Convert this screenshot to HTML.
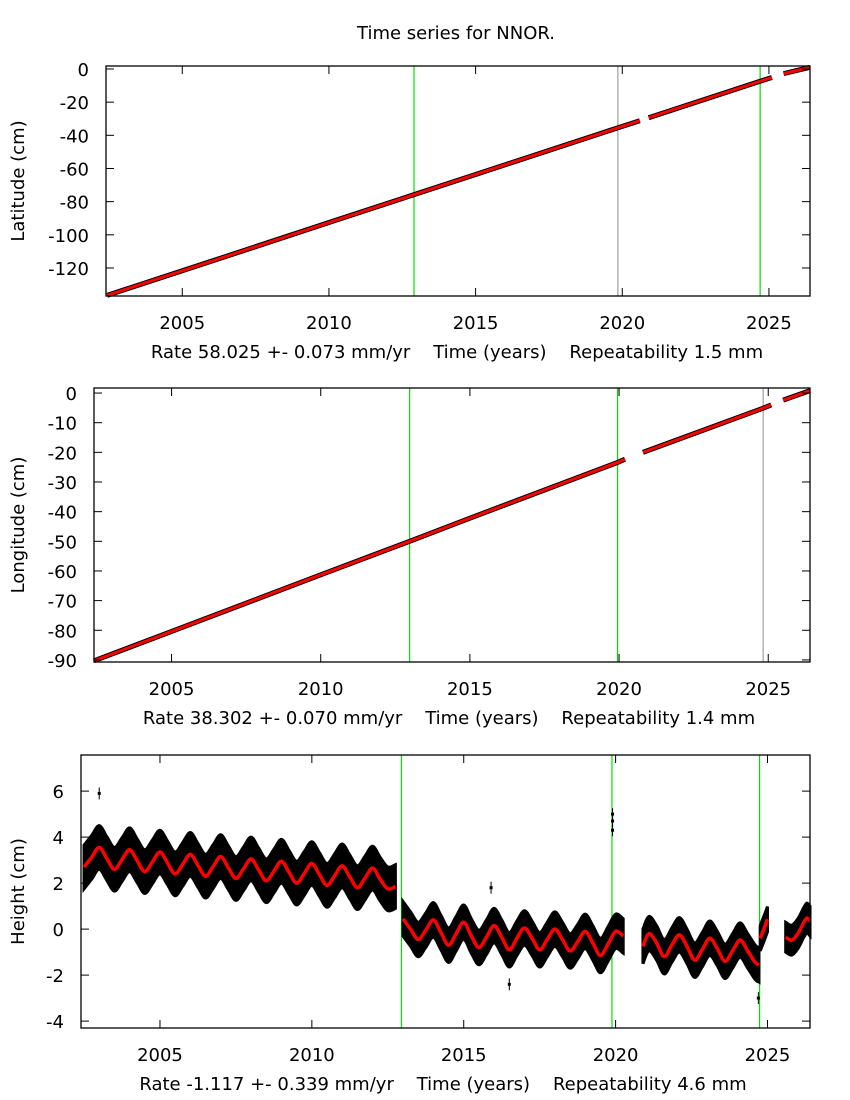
<!DOCTYPE html>
<html><head><meta charset="utf-8"><style>
html,body{margin:0;padding:0;background:#fff;}
svg{display:block;font-family:"DejaVu Sans","Liberation Sans",sans-serif;}
</style></head><body>
<svg id="chart" width="850" height="1100">
<text x="456" y="39" font-size="18" text-anchor="middle">Time series for NNOR.</text>
</svg>
<script>
// ---- Latitude data (cm) ----
const latT = [2002.44, 2005, 2010, 2012.9, 2015, 2019.4, 2019.5, 2020, 2020.6, null, 2020.9, 2024.7, 2025.1, null, 2025.5, 2026.4];
const latV = [-136.5, -121.7, -92.6, -75.8, -63.6, -38.1, -37.5, -34.6, -31.2, null, -29.4, -7.4, -5.1, null, -2.8, 1.0];
// ---- Longitude data (cm) ----
const lonT = [2002.4, 2005, 2010, 2012.98, 2015, 2019.95, 2020.2, null, 2020.8, 2024.83, 2025.1, null, 2025.5, 2026.4];
const lonV = [-90.3, -80.4, -61.3, -50.0, -42.2, -23.4, -22.3, null, -20.0, -5.1, -4.0, null, -2.4, 0.8];
// ---- Height model (cm), segments separated by null ----
const hgtT = [2002.5,2002.75,2003,2003.25,2003.5,2003.75,2004,2004.25,2004.5,2004.75,2005,2005.25,2005.5,2005.75,2006,2006.25,2006.5,2006.75,2007,2007.25,2007.5,2007.75,2008,2008.25,2008.5,2008.75,2009,2009.25,2009.5,2009.75,2010,2010.25,2010.5,2010.75,2011,2011.25,2011.5,2011.75,2012,2012.25,2012.5,2012.75,null,
2013,2013.25,2013.5,2013.75,2014,2014.25,2014.5,2014.75,2015,2015.25,2015.5,2015.75,2016,2016.25,2016.5,2016.75,2017,2017.25,2017.5,2017.75,2018,2018.25,2018.5,2018.75,2019,2019.25,2019.5,2019.75,2020,2020.25,null,
2020.9,2021.1,2021.35,2021.6,2021.85,2022.1,2022.35,2022.6,2022.85,2023.1,2023.35,2023.6,2023.85,2024.1,2024.35,2024.6,2024.72,null,
2024.76,2024.88,2025.0,null,
2025.6,2025.8,2026.0,2026.2,2026.3,2026.4];
const hgtV = [2.7,3.12,3.55,3.07,2.6,3.02,3.45,2.97,2.5,2.92,3.35,2.87,2.4,2.82,3.25,2.77,2.3,2.72,3.15,2.67,2.2,2.62,3.05,2.57,2.1,2.52,2.95,2.47,2.0,2.42,2.85,2.37,1.9,2.32,2.75,2.27,1.8,2.22,2.65,2.17,1.75,1.85,null,
0.45,0.0,-0.45,-0.05,0.4,-0.15,-0.7,-0.2,0.3,-0.3,-0.8,-0.35,0.15,-0.35,-0.9,-0.4,0.05,-0.4,-0.9,-0.45,0.0,-0.45,-0.95,-0.55,-0.1,-0.6,-1.15,-0.65,-0.1,-0.3,null,
-0.75,-0.2,-0.6,-1.2,-0.7,-0.25,-0.75,-1.35,-0.9,-0.4,-0.85,-1.4,-0.95,-0.48,-0.95,-1.45,-1.55,null,
-0.4,0.0,0.43,null,
-0.35,-0.48,-0.2,0.3,0.48,0.35];
// scatter half-width of the black residual band per segment
const hgtNoise = [0.95, 0.75, 0.75, 0.55, 0.65];
// isolated outliers
const outT = [2003.0, 2019.9, 2019.9, 2019.9, 2015.9, 2016.5, 2024.7];
const outV = [5.9, 4.3, 4.7, 5.0, 1.8, -2.4, -3.0];
// ---- tick labels ----
const xTicks = [2005, 2010, 2015, 2020, 2025];
const latTicks = [0, -20, -40, -60, -80, -100, -120];
const lonTicks = [0, -10, -20, -30, -40, -50, -60, -70, -80, -90];
const hgtTicks = [6, 4, 2, 0, -2, -4];

const svg = document.getElementById('chart');
const NS = 'http://www.w3.org/2000/svg';
function mk(tag, attrs, parent) {
  const e = document.createElementNS(NS, tag);
  for (const k in attrs) e.setAttribute(k, attrs[k]);
  (parent || svg).appendChild(e);
  return e;
}
function segs(T, V) {
  const out = []; let cur = [];
  T.forEach((t, i) => { if (t === null) { if (cur.length) out.push(cur); cur = []; } else cur.push([t, V[i]]); });
  if (cur.length) out.push(cur);
  return out;
}
function smoothPath(pts) {
  let d = 'M' + pts[0][0] + ',' + pts[0][1];
  for (let i = 0; i < pts.length - 1; i++) {
    const p0 = pts[i - 1] || pts[i], p1 = pts[i], p2 = pts[i + 1], p3 = pts[i + 2] || p2;
    const c1x = p1[0] + (p2[0] - p0[0]) / 6, c1y = p1[1] + (p2[1] - p0[1]) / 6;
    const c2x = p2[0] - (p3[0] - p1[0]) / 6, c2y = p2[1] - (p3[1] - p1[1]) / 6;
    d += ' C' + c1x + ',' + c1y + ' ' + c2x + ',' + c2y + ' ' + p2[0] + ',' + p2[1];
  }
  return d;
}

function panel(cfg) {
  const g = mk('g', {});
  
  
  const L = cfg.left, R = 810, T = cfg.top, B = cfg.bottom;
  const xs = t => L + (t - 2002.4) / (2026.4 - 2002.4) * (R - L);
  const ys = v => T + (cfg.ymax - v) / (cfg.ymax - cfg.ymin) * (B - T);
  cfg.vlines.forEach(vl => {
    const l = mk('line', {x1: xs(vl[0]), x2: xs(vl[0]), y1: T, y2: B, stroke: vl[1], 'stroke-width': 1.2}, g);
    
    
  });
  cfg.draw(g, xs, ys);
  const fr = mk('rect', {x: L, y: T, width: R - L, height: B - T, fill: 'none', stroke: '#000', 'stroke-width': 1.3}, g);
  
  
  xTicks.forEach(t => {
    const x = xs(t);
    mk('line', {x1: x, x2: x, y1: B, y2: B - 8, stroke: '#000'}, g);
    mk('line', {x1: x, x2: x, y1: T, y2: T + 8, stroke: '#000'}, g);
    const tx = mk('text', {x: x, y: B + 33, 'font-size': 18, 'text-anchor': 'middle'}, g);
    tx.textContent = t;
    
    
  });
  cfg.yticks.forEach(v => {
    const y = ys(v);
    mk('line', {x1: L, x2: L + 8, y1: y, y2: y, stroke: '#000'}, g);
    mk('line', {x1: R, x2: R - 8, y1: y, y2: y, stroke: '#000'}, g);
    const tx = mk('text', {x: L - 17, y: y + 7, 'font-size': 18, 'text-anchor': 'end'}, g);
    tx.textContent = v;
    
    
  });
  const yl = mk('text', {x: 0, y: 0, 'font-size': 18, 'text-anchor': 'middle', transform: 'translate(24,' + (T + B) / 2 + ') rotate(-90)'}, g);
  yl.textContent = cfg.ylabel;
  
  
  const xl = mk('text', {x: cfg.xlabelX, y: B + 62, 'font-size': 18, 'text-anchor': 'middle', 'xml:space': 'preserve', style: 'white-space:pre'}, g);
  xl.textContent = cfg.xlabel;
  
  
}

function linearDraw(T, V) {
  return (g, xs, ys) => {
    segs(T, V).forEach(s => {
      const pts = s.map(p => xs(p[0]) + ',' + ys(p[1])).join(' ');
      const b = mk('polyline', {points: pts, fill: 'none', stroke: '#000', 'stroke-width': 5}, g);
      
      
      const r = mk('polyline', {points: pts, fill: 'none', stroke: '#ff0000', 'stroke-width': 3}, g);
      
      
    });
  };
}

panel({name: 'latitude', left: 106, top: 66, bottom: 296, ymax: 1.8, ymin: -136.9,
  yticks: latTicks, ylabel: 'Latitude (cm)', xlabelX: 457,
  xlabel: 'Rate 58.025 +- 0.073 mm/yr    Time (years)    Repeatability 1.5 mm',
  vlines: [[2012.9, '#00e000'], [2019.85, '#a0a0a0'], [2024.7, '#00e000']],
  draw: linearDraw(latT, latV)});

panel({name: 'longitude', left: 94, top: 388, bottom: 662, ymax: 1.7, ymin: -90.7,
  yticks: lonTicks, ylabel: 'Longitude (cm)', xlabelX: 449,
  xlabel: 'Rate 38.302 +- 0.070 mm/yr    Time (years)    Repeatability 1.4 mm',
  vlines: [[2012.98, '#00e000'], [2019.95, '#00e000'], [2024.83, '#a0a0a0']],
  draw: linearDraw(lonT, lonV)});

panel({name: 'height', left: 81, top: 755, bottom: 1028, ymax: 7.57, ymin: -4.3,
  yticks: hgtTicks, ylabel: 'Height (cm)', xlabelX: 443,
  xlabel: 'Rate -1.117 +- 0.339 mm/yr    Time (years)    Repeatability 4.6 mm',
  vlines: [[2012.95, '#00e000'], [2019.88, '#00e000'], [2024.74, '#00e000']],
  draw: (g, xs, ys) => {
    const S = segs(hgtT, hgtV);
    S.forEach((s, i) => {
      const n = hgtNoise[i];
      const up = s.map(p => [xs(p[0]), ys(p[1] + n)]);
      const dn = s.map(p => [xs(p[0]), ys(p[1] - n)]).reverse();
      let d = smoothPath(up) + ' L' + dn[0][0] + ',' + dn[0][1] + smoothPath(dn).replace(/^M[^C]*/, ' ') + ' Z';
      const band = mk('path', {d: d, fill: '#000', stroke: '#000', 'stroke-width': 3}, g);
      
      
    });
    outT.forEach((t, i) => {
      const o = mk('rect', {x: xs(t) - 1.5, y: ys(outV[i]) - 1.5, width: 3, height: 3, fill: '#000'}, g);
      
      
      mk('line', {x1: xs(t), x2: xs(t), y1: ys(outV[i]) - 6, y2: ys(outV[i]) + 6, stroke: '#000'}, g);
    });
    S.forEach(s => {
      const pts = s.map(p => [xs(p[0]), ys(p[1])]);
      const r = mk('path', {d: smoothPath(pts), fill: 'none', stroke: '#ff0000', 'stroke-width': 3.5}, g);
      
      
    });
  }});
</script>
</body></html>
